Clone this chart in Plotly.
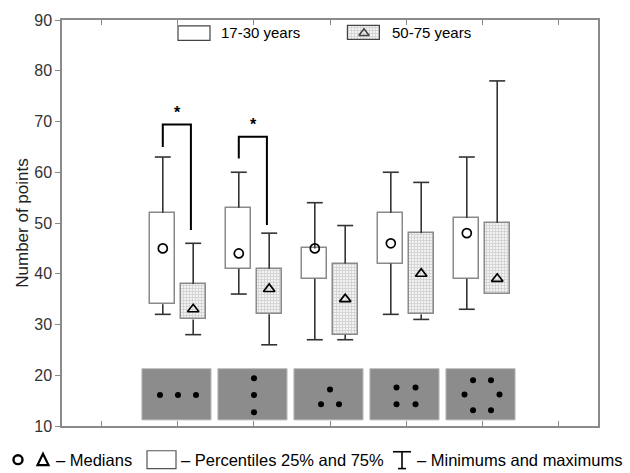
import plotly.graph_objects as go

# ---------------- data ----------------
groups = [1, 2, 3, 4, 5]
young_min = [32, 36, 27, 32, 33]
young_q1 = [34, 41, 39, 42, 39]
young_med = [45, 44, 45, 46, 48]
young_q3 = [52, 53, 45, 52, 51]
young_max = [63, 60, 54, 60, 63]

old_min = [28, 26, 27, 31, 36]
old_q1 = [31, 32, 28, 32, 36]
old_med = [33, 37, 35, 40, 39]
old_q3 = [38, 41, 42, 48, 50]
old_max = [46, 48, 49.5, 58, 78]

# significance brackets: (group, left low end, top, right low end)
sig_groups = [1, 2]
sig_left = [65, 62.7]
sig_top = [69.4, 67]
sig_right = [48.6, 49.6]

# stimulus pictograms (dot offsets from group centre, in axis units)
dots_dx = [
    [-0.237, 0, 0.237],
    [0, 0, 0],
    [0, -0.118, 0.118],
    [-0.125, 0.125, -0.125, 0.125],
    [-0.118, 0.118, -0.23, 0.23, -0.118, 0.118],
]
dots_y = [
    [16.1, 16.1, 16.1],
    [19.4, 16.1, 12.7],
    [17.2, 14.3, 14.3],
    [17.6, 17.6, 14.3, 14.3],
    [19.0, 19.0, 16.2, 16.2, 13.1, 13.1],
]

# ---------------- layout helpers ----------------
W, H = 630, 473
L, R, T, B = 62, 598, 16, 426
OFF = 0.2
BOXW = 0.33
CAP = 0.21
FONT = "Liberation Sans, Arial, sans-serif"
AXC = "#8a8a8a"


def px(x):
    return (x - L) / (R - L)


def py(y):
    return (B - y) / (B - T)


fig = go.Figure()


def whiskers(xs, lo, q1, q3, hi):
    X, Y = [], []
    for x, a, b, c, d in zip(xs, lo, q1, q3, hi):
        if b > a:
            X += [x, x, None, x - CAP / 2, x + CAP / 2, None]
            Y += [a, b, None, a, a, None]
        X += [x, x, None, x - CAP / 2, x + CAP / 2, None]
        Y += [c, d, None, d, d, None]
    return X, Y


xy = [g - OFF for g in groups]
xo = [g + OFF for g in groups]

for xs, lo, q1, q3, hi in [(xy, young_min, young_q1, young_q3, young_max),
                           (xo, old_min, old_q1, old_q3, old_max)]:
    X, Y = whiskers(xs, lo, q1, q3, hi)
    fig.add_trace(go.Scatter(x=X, y=Y, mode="lines",
                             line=dict(color="#333333", width=1.6),
                             showlegend=False, hoverinfo="skip"))

fig.add_trace(go.Bar(x=xy, y=[b - a for a, b in zip(young_q1, young_q3)], base=young_q1,
                     width=BOXW, marker=dict(color="white", line=dict(color=AXC, width=1.5)),
                     showlegend=False))
fig.add_trace(go.Bar(x=xo, y=[b - a for a, b in zip(old_q1, old_q3)], base=old_q1,
                     width=BOXW,
                     marker=dict(color="#f2f2f2", line=dict(color=AXC, width=1.5),
                                 pattern=dict(shape="+", fgcolor="#adadad", bgcolor="#f2f2f2",
                                              size=3, solidity=0.45)),
                     showlegend=False))

fig.add_trace(go.Scatter(x=xy, y=young_med, mode="markers",
                         marker=dict(symbol="circle-open", size=9, color="black",
                                     line=dict(width=1.7)),
                         showlegend=False))
fig.add_trace(go.Scatter(x=xo, y=old_med, mode="markers",
                         marker=dict(symbol="triangle-up-open", size=10, color="black",
                                     line=dict(width=1.7)),
                         showlegend=False))

# significance brackets
for g, a, t, b in zip(sig_groups, sig_left, sig_top, sig_right):
    fig.add_trace(go.Scatter(x=[g - OFF, g - OFF, g + OFF - 0.03, g + OFF - 0.03],
                             y=[a, t, t, b], mode="lines",
                             line=dict(color="black", width=2),
                             showlegend=False, hoverinfo="skip"))
    fig.add_annotation(x=g, y=t, yshift=2, text="<b>*</b>", showarrow=False,
                       yanchor="bottom", font=dict(family=FONT, size=16, color="black"))

# pictograms
shapes = []
for g in groups:
    shapes.append(dict(type="rect", xref="x", yref="y", x0=g - 0.475, x1=g + 0.435,
                       y0=11.2, y1=21.3, fillcolor="#8c8c8c",
                       line=dict(color="#bdbdbd", width=1), layer="below"))
DX, DY = [], []
for g, dx, dy in zip(groups, dots_dx, dots_y):
    DX += [g + d for d in dx]
    DY += dy
fig.add_trace(go.Scatter(x=DX, y=DY, mode="markers",
                         marker=dict(color="black", size=6), showlegend=False,
                         hoverinfo="skip"))

# ---------------- top legend ----------------
shapes.append(dict(type="rect", xref="paper", yref="paper",
                   x0=px(178), x1=px(210), y0=py(36.5), y1=py(22),
                   fillcolor="white", line=dict(color="#444", width=1.2)))
fig.add_trace(go.Bar(x=[3.447], y=[88.8 - 86.0], base=[86.0], width=0.42,
                     marker=dict(color="#f2f2f2", line=dict(color="#444", width=1.2),
                                 pattern=dict(shape="+", fgcolor="#adadad", bgcolor="#f2f2f2",
                                              size=3, solidity=0.45)),
                     showlegend=False, hoverinfo="skip"))
fig.add_trace(go.Scatter(x=[(194 - 102) / 76, (364 - 102) / 76], y=[87.3, 87.4],
                         mode="markers",
                         marker=dict(symbol=["circle-open", "triangle-up-open"], size=[8, 9],
                                     color="black", line=dict(width=1.6)),
                         showlegend=False, hoverinfo="skip"))
fig.add_annotation(xref="paper", yref="paper", x=px(219), y=py(29), text="17-30 years",
                   showarrow=False, xanchor="left", yanchor="middle",
                   font=dict(family=FONT, size=15, color="black"))
fig.add_annotation(xref="paper", yref="paper", x=px(390), y=py(29), text="50-75 years",
                   showarrow=False, xanchor="left", yanchor="middle",
                   font=dict(family=FONT, size=15, color="black"))

# ---------------- bottom legend ----------------
LY = 460
LF = 16.5
# circle
shapes.append(dict(type="circle", xref="paper", yref="paper",
                   x0=px(13.5), x1=px(22.5), y0=py(LY + 4.5), y1=py(LY - 4.5),
                   line=dict(color="black", width=2.4)))
# triangle
shapes.append(dict(type="path", xref="paper", yref="paper",
                   path="M {a} {b} L {c} {d} L {e} {f} Z".format(
                       a=px(37.5), b=py(LY + 5.5), c=px(48.5), d=py(LY + 5.5),
                       e=px(43), f=py(LY - 6)),
                   line=dict(color="black", width=2.2)))
fig.add_annotation(xref="paper", yref="paper", x=px(54), y=py(LY), text="– Medians",
                   showarrow=False, xanchor="left", yanchor="middle",
                   font=dict(family=FONT, size=LF, color="black"))
shapes.append(dict(type="rect", xref="paper", yref="paper",
                   x0=px(147), x1=px(176), y0=py(469), y1=py(451),
                   fillcolor="white", line=dict(color="#555", width=1.2)))
fig.add_annotation(xref="paper", yref="paper", x=px(179), y=py(LY),
                   text="– Percentiles 25% and 75%",
                   showarrow=False, xanchor="left", yanchor="middle",
                   font=dict(family=FONT, size=LF, color="black"))
# whisker symbol
for x0, x1, y0, y1 in [(393, 411, 452, 452), (402, 402, 452, 469), (398, 406, 469, 469)]:
    shapes.append(dict(type="line", xref="paper", yref="paper",
                       x0=px(x0), x1=px(x1), y0=py(y0), y1=py(y1),
                       line=dict(color="black", width=1.6)))
fig.add_annotation(xref="paper", yref="paper", x=px(415), y=py(LY),
                   text="– Minimums and maximums",
                   showarrow=False, xanchor="left", yanchor="middle",
                   font=dict(family=FONT, size=LF, color="black"))

fig.update_layout(
    width=W, height=H, autosize=False,
    margin=dict(l=L, r=W - R, t=T, b=H - B),
    paper_bgcolor="white", plot_bgcolor="white",
    barmode="overlay", bargap=0,
    shapes=shapes,
    font=dict(family=FONT, color="#333"),
    xaxis=dict(range=[-0.526, 6.526], tickvals=[0, 1, 2, 3, 4, 5, 6], showticklabels=False,
               ticks="inside", ticklen=5, tickcolor=AXC, showgrid=False, zeroline=False,
               showline=True, linecolor=AXC, linewidth=1.5, mirror="ticks"),
    yaxis=dict(range=[10, 90], dtick=10, ticks="outside", ticklen=5, tickcolor=AXC,
               showgrid=False, zeroline=False, showline=True, linecolor=AXC, linewidth=1.5,
               mirror=True, tickfont=dict(size=16, color="#333"),
               title=dict(text="Number of points", font=dict(size=17, color="#222"),
                          standoff=1)),
)

fig.write_html("out.html", config={"displayModeBar": False},
               post_script="document.body.style.margin='0';document.body.style.padding='0';")
